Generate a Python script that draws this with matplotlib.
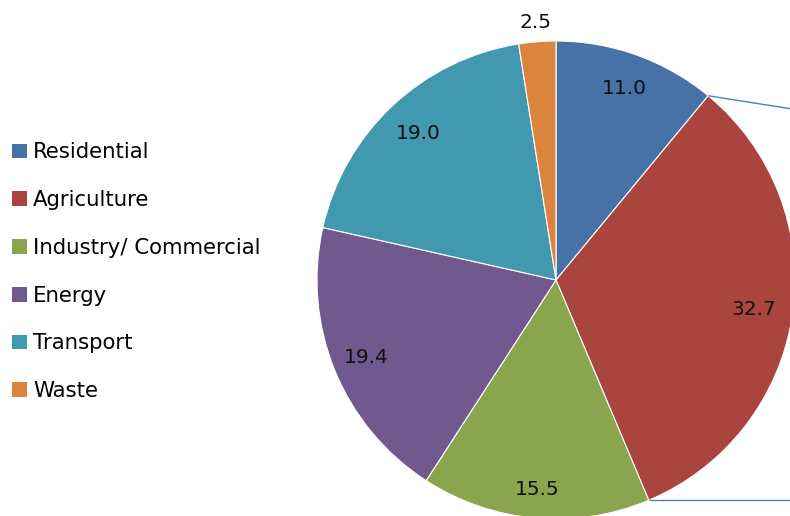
import numpy as np
import matplotlib.pyplot as plt
from matplotlib.patches import Patch

sectors = ['Residential', 'Agriculture', 'Industry/ Commercial', 'Energy', 'Transport', 'Waste']
shares = [11.0, 32.7, 15.5, 19.4, 19.0, 2.5]
colors = ['#4672A8', '#A9443F', '#89A54E', '#71588F', '#4198AF', '#DB843D']

plt.rcParams['font.family'] = ['DejaVu Sans']

fig = plt.figure(figsize=(7.9, 5.16), dpi=100)
ax = fig.add_axes([0, 0, 1, 1])

wedges, _ = ax.pie(shares, colors=colors, startangle=90, counterclock=False,
                   radius=1.0, wedgeprops=dict(edgecolor='white', linewidth=0.8))

# value labels placed along each wedge's mid angle
label_r = [0.85, 0.835, 0.88, 0.857, 0.843, 1.082]
for w, v, r in zip(wedges, shares, label_r):
    mid = np.deg2rad((w.theta1 + w.theta2) / 2)
    ax.text(r * np.cos(mid), r * np.sin(mid), f'{v:.1f}', ha='center', va='center',
            fontsize=14.5, color='#111111')

xmax = (790 - 556) / 239

# connector lines toward the (cropped) secondary chart for Agriculture
agri = wedges[1]
for ang, dy in [(agri.theta2, -0.054), (agri.theta1, 0.0)]:
    a = np.deg2rad(ang)
    x0, y0 = np.cos(a), np.sin(a)
    ax.plot([x0, xmax], [y0, y0 + dy], color='#4F81BD', lw=1.0, solid_capstyle='butt')

ax.set_xlim(-556 / 239, xmax)
ax.set_ylim((280 - 516) / 239, 280 / 239)
ax.set_aspect('auto')
ax.axis('off')

handles = [Patch(facecolor=c, edgecolor='none') for c in colors]
fig.legend(handles, sectors, loc='upper left', bbox_to_anchor=(0.015, 0.724),
           frameon=False, fontsize=15.3, handlelength=0.7, handleheight=0.7,
           handletextpad=0.3, labelspacing=1.306, borderaxespad=0, borderpad=0)

fig.savefig('out.png', dpi=100)
